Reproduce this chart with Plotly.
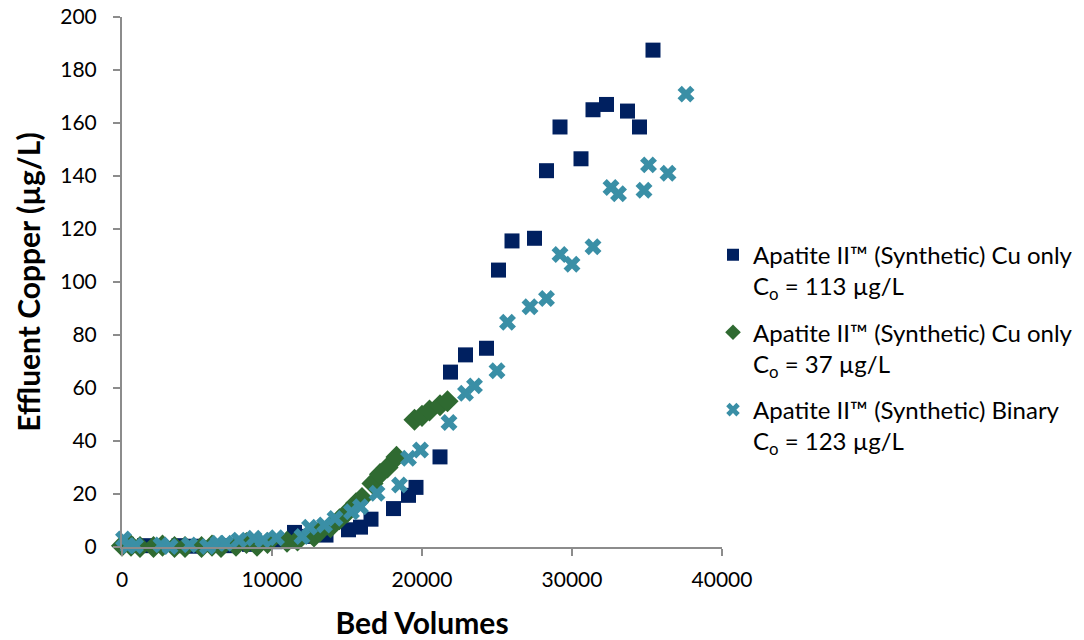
import plotly.graph_objects as go

# Cu-only column, influent 113 ug/L
cu113_bv = [300, 1500, 3800, 4700, 7200, 8500, 10200, 11500, 12400, 13600, 15100, 15900,
            16600, 18100, 19100, 19600, 21200, 21900, 22900, 24300, 25100, 26000, 27500,
            28300, 29200, 30600, 31400, 32300, 33700, 34500, 35400]
cu113_cu = [1, 0.5, 0.5, 0.3, 0.5, 1, 2, 5.5, 4, 4.5, 6.5, 7.5,
            10.5, 14.5, 19.5, 22.5, 34, 66, 72.5, 75, 104.5, 115.5, 116.5,
            142, 158.5, 146.5, 165, 167, 164.5, 158.5, 187.5]

# Cu-only column, influent 37 ug/L
cu37_bv = [0, 600, 1200, 2100, 2700, 3500, 4200, 5300, 6000, 6600, 7600, 8300, 9000, 9700,
           11000, 11700, 12800, 13200, 13900, 14500, 15000, 15600, 16000, 16700, 17200,
           17700, 18300, 19500, 20000, 20500, 21200, 21700]
cu37_cu = [0.5, 0.5, 0, 0, 0.5, 0, 0, 0, 0.5, 0, 0.5, 1.5, 0.5, 1.5,
           2, 2.5, 4, 6, 7.5, 10.5, 13, 16.5, 18.5, 24, 27.5,
           30, 34, 48, 49.5, 51.5, 53.5, 55]

# Binary column, influent 123 ug/L
bin_bv = [100, 400, 900, 2600, 3200, 4500, 5700, 6400, 6900, 7800, 8800, 9400, 10300, 12000,
          12500, 13500, 14200, 15300, 15900, 17000, 18500, 19100, 19900, 21800, 22900, 23500,
          25000, 25700, 27200, 28300, 29200, 30000, 31400, 32600, 33100, 34800, 35100, 36400,
          37600]
bin_cu = [3, 0.5, 0.5, 0.8, 0.2, 0.8, 0.2, 1.4, 1.4, 2.6, 3.3, 2.6, 3.5, 4,
          7.5, 8.3, 10.8, 13.3, 15.2, 20.3, 23.4, 33.5, 36.6, 47, 58, 60.8,
          66.5, 84.8, 90.7, 93.8, 110.4, 106.7, 113.3, 135.7, 133.3, 134.6, 144.2, 141,
          170.9]

series_names = [
    "Apatite II™ (Synthetic) Cu only<br>C<sub>o</sub> = 113 µg/L",
    "Apatite II™ (Synthetic) Cu only<br>C<sub>o</sub> = 37 µg/L",
    "Apatite II™ (Synthetic) Binary<br>C<sub>o</sub> = 123 µg/L",
]
x_ticks = [0, 10000, 20000, 30000, 40000]
y_ticks = [0, 20, 40, 60, 80, 100, 120, 140, 160, 180, 200]

NAVY = "#002060"
GREEN = "#2F6A31"
TEAL = "#3A8FA6"
AXIS = "#8C8C8C"
FONT = "Lato, 'Open Sans', sans-serif"

fig = go.Figure()
fig.add_trace(go.Scatter(
    x=cu113_bv, y=cu113_cu, mode="markers", name=series_names[0], legendgroup="a",
    marker=dict(symbol="square", size=15, color=NAVY), cliponaxis=False))
fig.add_trace(go.Scatter(
    x=cu37_bv, y=cu37_cu, mode="markers", name=series_names[1], legendgroup="b",
    marker=dict(symbol="diamond", size=17, color=GREEN), cliponaxis=False))
fig.add_trace(go.Scatter(
    x=bin_bv, y=bin_cu, mode="markers", name=series_names[2], legendgroup="c",
    marker=dict(symbol="x", size=15, color=TEAL), cliponaxis=False))

fig.update_layout(
    width=1084, height=640,
    margin=dict(l=122, r=362, t=17, b=93, autoexpand=False),
    paper_bgcolor="white", plot_bgcolor="white",
    font=dict(family=FONT, size=21, color="#000000"),
    showlegend=True,
    legend=dict(x=0.985, xanchor="left", y=0.375, yanchor="middle",
                font=dict(size=24, family=FONT), valign="top",
                tracegroupgap=12, itemsizing="constant"),
    xaxis=dict(range=[0, 40000], tickvals=x_ticks, ticktext=[str(v) for v in x_ticks],
               showgrid=False, zeroline=False, showline=True, linecolor=AXIS, linewidth=2,
               ticks="outside", tickcolor=AXIS, ticklen=7, tickwidth=2,
               tickfont=dict(size=21), automargin=False, ticklabelstandoff=6,
               title=dict(text="<b>Bed Volumes</b>", font=dict(size=30), standoff=29)),
    yaxis=dict(range=[0, 200], tickvals=y_ticks,
               showgrid=False, zeroline=False, showline=True, linecolor=AXIS, linewidth=2,
               ticks="outside", tickcolor=AXIS, ticklen=7, tickwidth=2,
               tickfont=dict(size=21), automargin=False, ticklabelstandoff=12,
               title=dict(text="<b>Effluent Copper (µg/L)</b>", font=dict(size=30), standoff=11)),
)

fig.write_html("out.html")
